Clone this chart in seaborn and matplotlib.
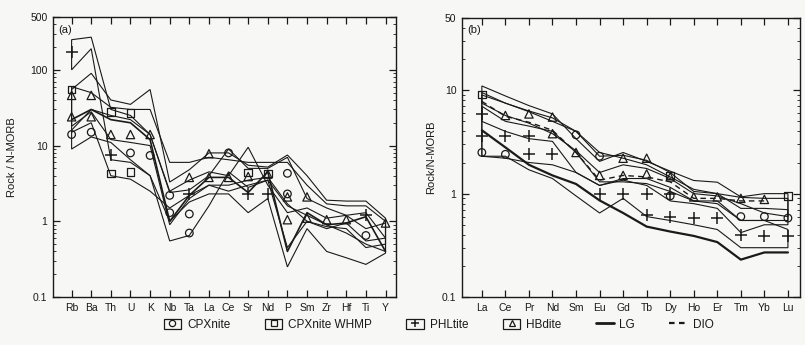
"""
Spider diagrams: (a) N-MORB normalised trace elements, (b) N-MORB normalised REE
"""
import numpy as np
import matplotlib
matplotlib.use('Agg')
import matplotlib.pyplot as plt
import seaborn as sns
from matplotlib.patches import Rectangle
from matplotlib.lines import Line2D
from matplotlib.ticker import LogLocator, NullFormatter, FixedLocator

nan = np.nan

# ---- panel (a) ----
elem_a = ['Rb', 'Ba', 'Th', 'U', 'K', 'Nb', 'Ta', 'La', 'Ce', 'Sr', 'Nd', 'P', 'Sm', 'Zr', 'Hf', 'Ti', 'Y']

phl_a_hi = [250, 270, 30, 25, 14, 2.5, 3.5, 4.5, 4.0, 9.5, 3.0, 1.3, 1.5, 1.1, 1.2, 1.3, 0.6]
phl_a_lo = [100, 190, 6.5, 6.0, 4.0, 1.0, 1.8, 2.3, 2.3, 1.3, 2.0, 0.25, 0.8, 0.4, 0.33, 0.27, 0.38]
phl_a_pts = [170, nan, 7.5, nan, nan, nan, 2.3, nan, nan, 2.3, 2.3, nan, nan, nan, nan, 1.2, nan]

hbd_a_hi = [55, 90, 40, 35, 55, 3.3, 4.8, 8.0, 8.0, 5.5, 5.2, 7.5, 4.0, 1.9, 1.85, 1.85, 1.1]
hbd_a_lo = [18, 28, 12, 11, 10, 0.9, 2.0, 3.0, 2.5, 3.0, 3.5, 0.45, 1.0, 0.8, 0.95, 0.55, 0.6]
hbd_a_pts1 = [46, 46, 14, 14, 14, nan, 3.8, 3.8, 3.8, 3.9, 4.2, 2.1, 2.1, 1.05, 1.05, nan, 0.95]
hbd_a_pts2 = [24, 24, nan, nan, nan, nan, nan, 7.8, nan, nan, nan, 1.05, 1.1, nan, nan, nan, nan]

cpx_a_hi = [16, 30, 25, 22, 14, 2.4, 2.6, 4.0, 9.0, 5.0, 5.0, 7.0, 2.0, 1.5, 1.2, 0.8, 0.95]
cpx_a_lo = [9, 13, 11, 6.5, 4.0, 0.55, 0.65, 1.6, 4.5, 2.8, 3.5, 1.6, 1.2, 0.9, 0.7, 0.5, 0.4]
cpx_a_pts1 = [14, 15, nan, 8.0, 7.4, 1.3, 0.7, nan, 8.0, nan, nan, 4.3, nan, nan, nan, 0.65, nan]
cpx_a_pts2 = [nan, nan, nan, nan, nan, 2.2, 1.25, nan, nan, nan, nan, 2.3, nan, nan, nan, nan, nan]

whm_a_hi = [60, 50, 32, 30, 30, 6.0, 6.0, 7.0, 6.5, 6.0, 6.0, 6.0, 3.0, 1.7, 1.6, 1.6, 1.0]
whm_a_lo = [15, 20, 4.0, 3.6, 2.5, 1.5, 2.2, 3.0, 3.0, 3.5, 3.8, 1.7, 1.0, 0.85, 0.8, 0.45, 0.5]
whm_a_pts1 = [55, nan, 28, 27, nan, nan, nan, nan, nan, 4.4, 4.3, nan, nan, nan, nan, nan, nan]
whm_a_pts2 = [nan, nan, 4.3, 4.5, nan, nan, nan, nan, nan, nan, nan, nan, nan, nan, nan, nan, nan]

lg_a = [22, 30, 22, 20, 12, 1.0, 2.2, 3.8, 3.8, 2.4, 4.5, 0.4, 1.3, 0.9, 0.95, 1.15, 0.4]

# ---- panel (b) ----
elem_b = ['La', 'Ce', 'Pr', 'Nd', 'Sm', 'Eu', 'Gd', 'Tb', 'Dy', 'Ho', 'Er', 'Tm', 'Yb', 'Lu']

whm_b_hi = [11, 8.8, 7.1, 5.9, 3.4, 2.05, 2.5, 2.05, 1.65, 1.34, 1.29, 0.93, 1.0, 1.0]
whm_b_lo = [7.5, 5.7, 4.8, 3.8, 2.6, 1.6, 1.9, 1.75, 1.4, 1.0, 0.95, 0.8, 0.65, 0.6]
whm_b_pts = [9.1, nan, nan, nan, nan, nan, nan, nan, 1.5, nan, nan, nan, nan, 0.95]

hbd_b_hi = [9.0, 7.5, 6.3, 5.4, 4.0, 2.3, 2.35, 2.1, 1.6, 1.05, 1.0, 0.92, 0.9, 0.9]
hbd_b_lo = [5.0, 4.0, 3.4, 3.2, 1.6, 1.2, 1.4, 1.4, 1.15, 0.85, 0.85, 0.55, 0.55, 0.55]
hbd_b_pts1 = [nan, 5.7, 5.9, 5.5, 2.5, 1.5, 1.5, 1.55, 1.45, 0.93, 0.93, 0.9, 0.88, nan]
hbd_b_pts2 = [nan, nan, nan, 3.8, nan, nan, 2.2, 2.2, nan, nan, nan, nan, nan, nan]

phl_b_hi = [7.0, 5.0, 4.5, 4.0, 2.5, 1.3, 1.3, 1.25, 1.05, 0.85, 0.8, 0.55, 0.55, 0.45]
phl_b_lo = [2.3, 2.3, 1.7, 1.4, 0.95, 0.65, 0.9, 0.6, 0.55, 0.5, 0.45, 0.3, 0.3, 0.3]
phl_b_pts1 = [5.9, 3.6, 3.6, 2.4, nan, 1.0, 1.0, 1.0, 1.0, nan, nan, nan, nan, nan]
phl_b_pts2 = [3.6, nan, 2.4, nan, nan, nan, nan, 0.62, 0.6, 0.58, 0.58, 0.4, 0.39, 0.39]

cpx_b_hi = [9.5, 7.5, 6.2, 5.0, 4.0, 2.5, 2.2, 1.9, 1.45, 1.1, 1.0, 0.72, 0.72, 0.7]
cpx_b_lo = [2.3, 2.2, 2.0, 1.9, 1.6, 1.2, 1.35, 1.2, 0.85, 0.8, 0.72, 0.42, 0.5, 0.5]
cpx_b_pts = [2.5, 2.4, nan, nan, 3.7, 2.3, nan, nan, 0.95, nan, nan, 0.6, 0.6, 0.58]

lg_b = [4.1, 2.8, 1.9, 1.5, 1.24, 0.86, 0.65, 0.48, 0.43, 0.39, 0.34, 0.23, 0.27, 0.27]
dio_b = [7.8, 5.6, 4.9, 4.1, 2.5, 1.35, 1.5, 1.45, 1.3, 0.9, 0.9, 0.85, 0.85, nan]

legend_labels = ['CPXnite', 'CPXnite WHMP', 'PHLtite', 'HBdite', 'LG', 'DIO']

INK = '#1a1a1a'
PAPER = '#f7f7f6'

sns.set_theme(style='ticks')
plt.rcParams['font.family'] = ['Liberation Sans', 'DejaVu Sans']


def draw_field(ax, hi, lo):
    """Closed envelope outline for one rock group"""
    x = list(range(len(hi))) + list(range(len(lo)))[::-1]
    y = list(hi) + list(lo)[::-1]
    ax.fill(x, y, facecolor='none', edgecolor=INK, linewidth=0.8, zorder=2)


def draw_points(ax, vals, marker):
    """Open symbols at element positions"""
    x = np.arange(len(vals))
    if marker == '+':
        sns.scatterplot(x=x, y=vals, ax=ax, marker='+', color=INK, s=85,
                        linewidth=1.1, zorder=3, legend=False)
    else:
        size = 30 if marker != '^' else 36
        sns.scatterplot(x=x, y=vals, ax=ax, marker=marker, facecolor='none',
                        edgecolor=INK, s=size, linewidth=0.9, zorder=3, legend=False)


def style_axis(ax, elems, ylim, yticks, yticklabels, xlim, ylabel, tag):
    ax.set_yscale('log')
    ax.set_ylim(*ylim)
    ax.set_xlim(*xlim)
    ax.set_facecolor(PAPER)
    ax.xaxis.set_major_locator(FixedLocator(range(len(elems))))
    ax.set_xticklabels(elems, fontsize=7.5, color=INK)
    ax.yaxis.set_major_locator(FixedLocator(yticks))
    ax.set_yticklabels(yticklabels, fontsize=7.5, color=INK)
    ax.yaxis.set_minor_locator(LogLocator(base=10, subs=np.arange(2, 10)))
    ax.yaxis.set_minor_formatter(NullFormatter())
    ax.tick_params(axis='both', which='major', direction='in', length=5, width=0.9,
                   top=True, right=True, color=INK, pad=4)
    ax.tick_params(axis='y', which='minor', direction='in', length=2.5, width=0.6,
                   right=True, color=INK)
    for s in ax.spines.values():
        s.set_color(INK)
        s.set_linewidth(1.0)
    ax.set_xlabel('')
    ax.set_ylabel(ylabel, fontsize=8, color=INK)
    ax.text(0.015, 0.955, tag, transform=ax.transAxes, fontsize=8, color=INK,
            ha='left', va='center')


fig = plt.figure(figsize=(8.05, 3.45), dpi=100)
fig.patch.set_facecolor(PAPER)
ax_a = fig.add_axes([0.0658, 0.139, 0.4265, 0.812])
ax_b = fig.add_axes([0.574, 0.139, 0.42, 0.809])

# panel (a)
for hi, lo in [(phl_a_hi, phl_a_lo), (hbd_a_hi, hbd_a_lo), (cpx_a_hi, cpx_a_lo), (whm_a_hi, whm_a_lo)]:
    draw_field(ax_a, hi, lo)
sns.lineplot(x=np.arange(len(elem_a)), y=lg_a, ax=ax_a, color=INK, linewidth=1.2, zorder=2)
draw_points(ax_a, phl_a_pts, '+')
draw_points(ax_a, hbd_a_pts1, '^')
draw_points(ax_a, hbd_a_pts2, '^')
draw_points(ax_a, cpx_a_pts1, 'o')
draw_points(ax_a, cpx_a_pts2, 'o')
draw_points(ax_a, whm_a_pts1, 's')
draw_points(ax_a, whm_a_pts2, 's')
style_axis(ax_a, elem_a, (0.1, 500), [0.1, 1, 10, 100, 500],
           ['0.1', '1', '10', '100', '500'], (-0.95, 16.55), 'Rock / N-MORB', '(a)')
ax_a.yaxis.set_label_coords(-0.105, 0.5)

# panel (b)
for hi, lo in [(whm_b_hi, whm_b_lo), (hbd_b_hi, hbd_b_lo), (phl_b_hi, phl_b_lo), (cpx_b_hi, cpx_b_lo)]:
    draw_field(ax_b, hi, lo)
sns.lineplot(x=np.arange(len(elem_b)), y=lg_b, ax=ax_b, color=INK, linewidth=1.6, zorder=2)
sns.lineplot(x=np.arange(len(elem_b)), y=dio_b, ax=ax_b, color=INK, linewidth=1.0,
             linestyle=(0, (4, 3)), zorder=2)
draw_points(ax_b, whm_b_pts, 's')
draw_points(ax_b, hbd_b_pts1, '^')
draw_points(ax_b, hbd_b_pts2, '^')
draw_points(ax_b, phl_b_pts1, '+')
draw_points(ax_b, phl_b_pts2, '+')
draw_points(ax_b, cpx_b_pts, 'o')
style_axis(ax_b, elem_b, (0.1, 50), [0.1, 1, 10, 50],
           ['0.1', '1', '10', '50'], (-0.84, 13.52), 'Rock/N-MORB', '(b)')
ax_b.yaxis.set_label_coords(-0.078, 0.5)

# legend: box with symbol for rock groups, line samples for LG / DIO
def box_handle(marker):
    box = Rectangle((0, 0), 1, 1, facecolor='none', edgecolor=INK, linewidth=0.9)
    if marker == '+':
        mk = Line2D([], [], marker='+', color=INK, linestyle='none', markersize=6, markeredgewidth=1.1)
    else:
        mk = Line2D([], [], marker=marker, markerfacecolor='none', markeredgecolor=INK,
                    linestyle='none', markersize=4.5, markeredgewidth=0.9)
    return (box, mk)

handles = [box_handle('o'), box_handle('s'), box_handle('+'), box_handle('^'),
           Line2D([], [], color=INK, linewidth=2.0),
           Line2D([], [], color=INK, linewidth=1.6, linestyle=(0, (2.5, 2)))]
fig.legend(handles, legend_labels, loc='center', bbox_to_anchor=(0.545, 0.058), ncol=6,
           frameon=False, fontsize=8.5, handlelength=1.5, handleheight=1.0,
           columnspacing=2.9, handletextpad=0.5, labelcolor=INK)

plt.savefig('out.png', dpi=100, facecolor=PAPER)
plt.close()
